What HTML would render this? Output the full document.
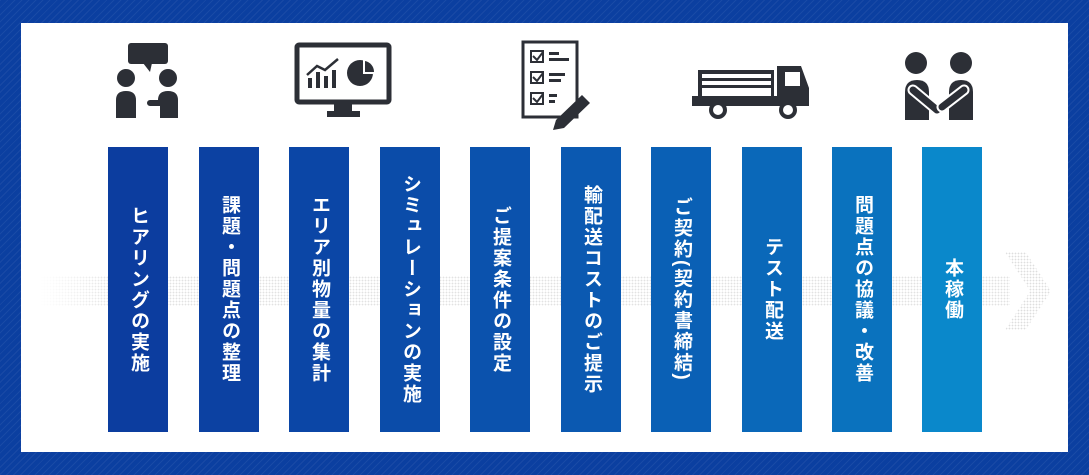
<!DOCTYPE html>
<html><head><meta charset="utf-8"><style>
html,body{margin:0;padding:0}
body{width:1089px;height:475px;position:relative;overflow:hidden;background:#0b3fa0;
background-image:repeating-linear-gradient(135deg,rgba(255,255,255,0.06) 0 1px,transparent 1px 5px);
font-family:"Liberation Sans","Noto Sans CJK JP",sans-serif}
.panel{position:absolute;left:21px;top:23px;width:1047px;height:429px;background:#fff}
.band{position:absolute;left:40px;top:276px;width:970px;height:30px;
background-image:radial-gradient(circle,#e2e2e2 0.7px,transparent 1px);background-size:3px 3px;
-webkit-mask:linear-gradient(90deg,transparent,#000 8%);mask:linear-gradient(90deg,transparent,#000 8%)}
.head{position:absolute;left:1005px;top:252px;width:46px;height:78px;
background-image:radial-gradient(circle,#dedede 0.7px,transparent 1px);background-size:3px 3px;
clip-path:polygon(0 0,45% 0,100% 50%,45% 100%,0 100%,55% 50%)}
.bar{position:absolute;top:147px;width:60px;height:285px;display:flex;align-items:center;justify-content:center}
.bar span{writing-mode:vertical-rl;color:#fff;font-size:19px;font-weight:bold;line-height:22px;letter-spacing:2px;
font-family:"Liberation Sans","Noto Sans CJK JP",sans-serif}
svg{position:absolute;left:0;top:0}
</style></head><body>
<div class="panel"></div>
<div class="band"></div><div class="head"></div>
<div class="bar" style="left:108px;background:#0c3d9f"><span>ヒアリングの実施</span></div>
<div class="bar" style="left:199px;background:#0c41a2"><span>課題・問題点の整理</span></div>
<div class="bar" style="left:289px;background:#0b46a6"><span>エリア別物量の集計</span></div>
<div class="bar" style="left:380px;background:#0b4ca9"><span>シミュレーションの実施</span></div>
<div class="bar" style="left:470px;background:#0b52ad"><span>ご提案条件の設定</span></div>
<div class="bar" style="left:561px;background:#0b59b1"><span>輸配送コストのご提示</span></div>
<div class="bar" style="left:651px;background:#0a60b5"><span>ご契約(契約書締結)</span></div>
<div class="bar" style="left:742px;background:#0a68b9"><span>テスト配送</span></div>
<div class="bar" style="left:832px;background:#0a72be"><span>問題点の協議・改善</span></div>
<div class="bar" style="left:922px;background:#0a88cb"><span>本稼働</span></div>
<svg width="1089" height="475" fill="#2c2f36">
<!-- icon1 -->
<rect x="128" y="43" width="40" height="21" rx="3"/><polygon points="143,63 152,63 150,72"/>
<circle cx="126" cy="78" r="9"/><circle cx="168" cy="78" r="9"/>
<path d="M116,100 q0,-9 10,-9 q10,0 10,9 v18 h-20z"/>
<path d="M158,100 q0,-9 10,-9 q10,0 10,9 v18 h-18 v-12 h-10 a3,3 0 0 1 0,-6 h8z"/>
<!-- monitor -->
<rect x="297" y="45" width="92" height="57" rx="2" fill="none" stroke="#2c2f36" stroke-width="5"/>
<rect x="334" y="102" width="18" height="10"/><rect x="327" y="111" width="33" height="6"/>
<rect x="308" y="78" width="4" height="10"/><rect x="316" y="72" width="4" height="16"/><rect x="324" y="76" width="4" height="12"/><rect x="332" y="70" width="4" height="18"/>
<polyline points="307,75 317,66 325,70 338,59" fill="none" stroke="#2c2f36" stroke-width="2.5"/>
<circle cx="360" cy="73" r="13"/><path d="M363,59 a13,13 0 0 1 12,15 h-12z" fill="#fff"/><path d="M365,61 a11,11 0 0 1 9,11 h-9z"/>
<!-- clipboard -->
<rect x="523" y="42" width="54" height="75" fill="none" stroke="#2c2f36" stroke-width="3"/>
<g fill="none" stroke="#2c2f36" stroke-width="2"><rect x="531" y="51" width="12" height="11"/><rect x="531" y="72" width="12" height="11"/><rect x="531" y="93" width="12" height="11"/>
<polyline points="533,56 537,60 543,52"/><polyline points="533,77 537,81 543,73"/><polyline points="533,98 537,102 543,94"/></g>
<rect x="549" y="52" width="10" height="3"/><rect x="549" y="58" width="20" height="3"/><rect x="549" y="73" width="16" height="3"/><rect x="549" y="79" width="12" height="3"/><rect x="549" y="94" width="8" height="3"/><rect x="549" y="100" width="6" height="3"/>
<polygon points="582,95 590,103 564,128 553,130 556,120"/>
<!-- truck -->
<rect x="698" y="70" width="76" height="4"/><rect x="698" y="78" width="76" height="3"/><rect x="698" y="85" width="76" height="3"/>
<rect x="698" y="70" width="4" height="30"/><rect x="771" y="70" width="3" height="30"/>
<path d="M777,66 h24 l8,22 v18 h-117 v-10 h85z"/><rect x="785" y="72" width="15" height="14" fill="#fff"/>
<circle cx="718" cy="110" r="7" stroke="#2c2f36" stroke-width="4" fill="#fff"/><circle cx="788" cy="110" r="7" stroke="#2c2f36" stroke-width="4" fill="#fff"/>
<!-- handshake -->
<circle cx="916" cy="63" r="11"/><circle cx="961" cy="63" r="11"/>
<path d="M905,120 v-28 q0,-12 12,-12 q12,0 12,12 v28z"/>
<path d="M949,120 v-28 q0,-12 12,-12 q12,0 12,12 v28z"/>
<g stroke-linecap="round" fill="none">
<line x1="913" y1="90" x2="937" y2="110" stroke="#fff" stroke-width="11"/>
<line x1="913" y1="90" x2="937" y2="110" stroke="#2c2f36" stroke-width="7"/>
<line x1="964" y1="90" x2="942" y2="107" stroke="#fff" stroke-width="11"/>
<line x1="964" y1="90" x2="942" y2="107" stroke="#2c2f36" stroke-width="7"/>
</g>
</svg>
</body></html>
